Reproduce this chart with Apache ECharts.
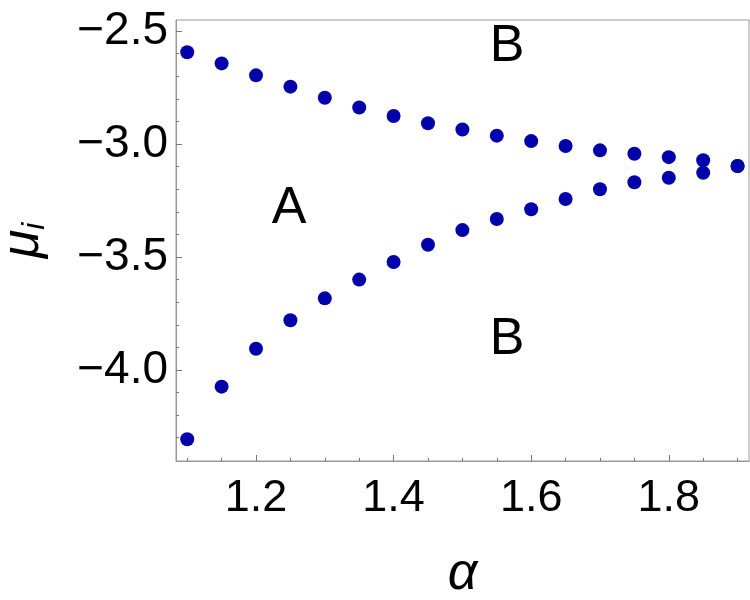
<!DOCTYPE html>
<html>
<head>
<meta charset="utf-8">
<script src="https://cdn.jsdelivr.net/npm/echarts@6/dist/echarts.min.js"></script>
<style>
  html, body { margin: 0; padding: 0; background: #fff; }
  #main { width: 750px; height: 600px; }
</style>
</head>
<body>
<div id="main"></div>
<script>
// alpha values
const alpha = [1.10, 1.15, 1.20, 1.25, 1.30, 1.35, 1.40, 1.45, 1.50, 1.55,
               1.60, 1.65, 1.70, 1.75, 1.80, 1.85, 1.90]
// upper branch of mu_i
const muUpper = [-2.594, -2.643, -2.696, -2.746, -2.795, -2.838, -2.876, -2.908, -2.936,
                 -2.963, -2.987, -3.009, -3.028, -3.043, -3.058, -3.072, -3.097]
// lower branch of mu_i
const muLower = [-4.307, -4.074, -3.906, -3.780, -3.683, -3.600, -3.522, -3.446, -3.381,
                 -3.332, -3.289, -3.243, -3.200, -3.169, -3.149, -3.127, -3.097]
// tick positions
const xMajor = [1.2, 1.4, 1.6, 1.8]
const xMinor = [1.1, 1.15, 1.2, 1.25, 1.3, 1.35, 1.4, 1.45, 1.5, 1.55, 1.6, 1.65, 1.7, 1.75, 1.8, 1.85, 1.9]
const yMajor = [-4.0, -3.5, -3.0, -2.5]
const yMinor = [-4.3, -4.2, -4.1, -4.0, -3.9, -3.8, -3.7, -3.6, -3.5, -3.4, -3.3, -3.2, -3.1,
                -3.0, -2.9, -2.8, -2.7, -2.6, -2.5]
// region labels
const regionLabels = [
  { name: 'A', x: 1.248, y: -3.288 },
  { name: 'B', x: 1.565, y: -2.571 },
  { name: 'B', x: 1.565, y: -3.867 },
]

const xMin = 1.0837, xMax = 1.9166
const yMin = -4.403, yMax = -2.451
const font = 'Liberation Sans, Arial, sans-serif'
const fmt = (v) => (v < 0 ? '\u2212' : '') + Math.abs(v).toFixed(1)

const chart = echarts.init(document.getElementById('main'))

const axisBase = {
  type: 'value',
  splitLine: { show: false },
  axisLine: { show: true, lineStyle: { color: '#999', width: 1 } },
}

chart.setOption({
  animation: false,
  grid: {
    left: 176, top: 20, right: 1, bottom: 139,
    outerBoundsMode: 'none', containLabel: false,
    show: true, borderColor: '#999', borderWidth: 1,
  },
  xAxis: [
    {
      ...axisBase,
      min: xMin, max: xMax,
      axisTick: { show: true, inside: true, length: 6, customValues: xMajor, lineStyle: { color: '#777' } },
      axisLabel: { customValues: xMajor, formatter: fmt, fontSize: 45, color: '#000', fontFamily: font, margin: 15 },
      name: 'α',
      nameLocation: 'middle',
      nameGap: 88,
      nameTextStyle: { fontSize: 52, fontStyle: 'italic', color: '#000', fontFamily: font },
    },
    {
      ...axisBase,
      min: xMin, max: xMax,
      axisLine: { show: false },
      axisTick: { show: true, inside: true, length: 3, customValues: xMinor, lineStyle: { color: '#777' } },
      axisLabel: { show: false },
      position: 'bottom',
    },
  ],
  yAxis: [
    {
      ...axisBase,
      min: yMin, max: yMax,
      axisTick: { show: true, inside: true, length: 6, customValues: yMajor, lineStyle: { color: '#777' } },
      axisLabel: { customValues: yMajor, formatter: fmt, fontSize: 46, color: '#000', fontFamily: font, margin: 8 },
      name: '{mu|μ}{sub|i}',
      nameLocation: 'middle',
      nameGap: 125,
      nameRotate: 90,
      nameTextStyle: {
        color: '#000', fontFamily: font,
        rich: {
          mu: { fontSize: 52, fontStyle: 'italic', fontFamily: font, color: '#000' },
          sub: { fontSize: 32, fontStyle: 'italic', fontFamily: font, color: '#000', verticalAlign: 'bottom', padding: [22, 0, 0, 0] },
        },
      },
    },
    {
      ...axisBase,
      min: yMin, max: yMax,
      axisLine: { show: false },
      axisTick: { show: true, inside: true, length: 3, customValues: yMinor, lineStyle: { color: '#777' } },
      axisLabel: { show: false },
      position: 'left',
    },
  ],
  series: [
    {
      type: 'scatter',
      symbolSize: 14,
      itemStyle: { color: '#0202aa', opacity: 1 },
      data: alpha.map((a, i) => [a, muUpper[i]]),
    },
    {
      type: 'scatter',
      symbolSize: 14,
      itemStyle: { color: '#0202aa', opacity: 1 },
      data: alpha.map((a, i) => [a, muLower[i]]),
    },
    {
      type: 'scatter',
      symbolSize: 0,
      itemStyle: { opacity: 1 },
      data: regionLabels.map((r) => ({ name: r.name, value: [r.x, r.y] })),
      label: {
        show: true,
        position: 'inside',
        formatter: '{b}',
        fontSize: 52,
        color: '#000',
        opacity: 1,
        fontFamily: font,
      },
    },
  ],
})
</script>
</body>
</html>
